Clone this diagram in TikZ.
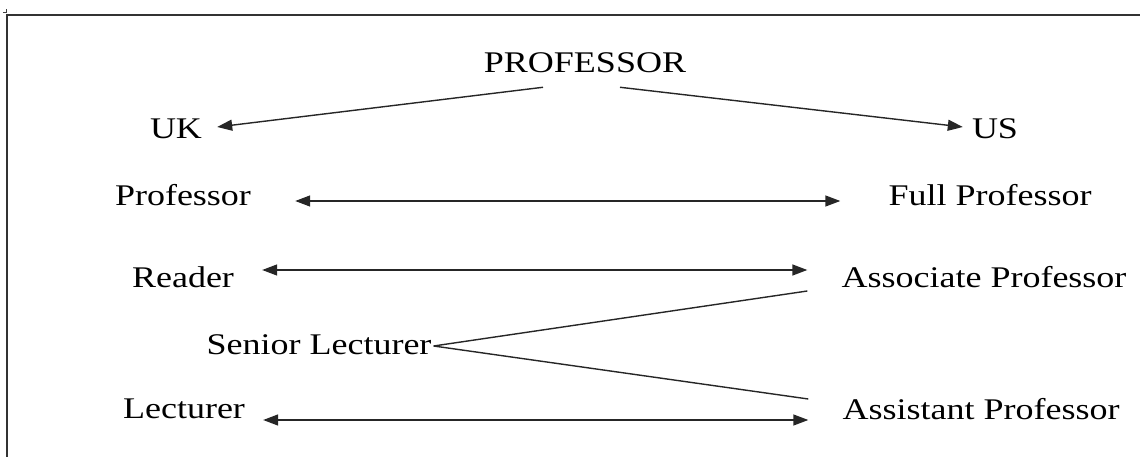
\documentclass[tikz,border=0pt]{standalone}
\usepackage{fontspec}
\setmainfont{Liberation Serif}[FakeStretch=1.2]
\usetikzlibrary{arrows.meta,calc}
\begin{document}
\begin{tikzpicture}[x=1pt,y=-1pt,
  lbl/.style={inner sep=0pt,font=\fontsize{30}{36}\selectfont,text=black},
  conn/.style={line width=1.4pt,draw=black!85},
  tip/.style={-{Triangle[length=15pt,width=11pt]}},
  tips/.style={{Triangle[length=15pt,width=11pt]}-{Triangle[length=15pt,width=11pt]}},
  frame/.style={line width=2.2pt,draw=black!80}]
\useasboundingbox (0,0) rectangle (1140,457);
% frame
\draw[frame] (7,457) -- (7,15) -- (1140,15);
\draw[line width=1pt,draw=black!75] (3,13) -- (6,13) -- (6,9);
% labels
\node[lbl] (top) at (585,63) {PROFESSOR};
\node[lbl] (uk) at (176,129) {UK};
\node[lbl] (us) at (995,129) {US};
\node[lbl] (prof) at (183,195) {Professor};
\node[lbl] (full) at (990,195) {Full Professor};
\node[lbl] (reader) at (183,277) {Reader};
\node[lbl] (assoc) at (984,277) {Associate Professor};
\node[lbl] (senior) at (319,345) {Senior Lecturer};
\node[lbl] (lect) at (184,409) {Lecturer};
\node[lbl] (assist) at (981,409) {Assistant Professor};
% connector end points
\coordinate (topL) at ($(top.south)+(-42,14)$);
\coordinate (topR) at ($(top.south)+(35,14)$);
\coordinate (ukE) at ($(uk.east)+(15,-2)$);
\coordinate (usW) at ($(us.west)+(-9,-2)$);
\coordinate (profE) at ($(prof.east)+(44,6)$);
\coordinate (fullW) at ($(full.west)+(-48,6)$);
\coordinate (readerE) at ($(reader.east)+(28,-7)$);
\coordinate (assocW) at ($(assoc.west)+(-34,-7)$);
\coordinate (lectE) at ($(lect.east)+(18,11)$);
\coordinate (assistW) at ($(assist.west)+(-34,11)$);
\coordinate (seniorE) at ($(senior.east)+(2,1)$);
\coordinate (assocSW) at ($(assoc.west)+(-34,14)$);
\coordinate (assistNW) at ($(assist.west)+(-34,-10)$);
% connectors
\draw[conn,tip] (topL) -- (ukE);
\draw[conn,tip] (topR) -- (usW);
\draw[conn,tips] (profE) -- (fullW);
\draw[conn,tips] (readerE) -- (assocW);
\draw[conn,tips] (lectE) -- (assistW);
\draw[conn] (seniorE) -- (assocSW);
\draw[conn] (seniorE) -- (assistNW);
\end{tikzpicture}
\end{document}
